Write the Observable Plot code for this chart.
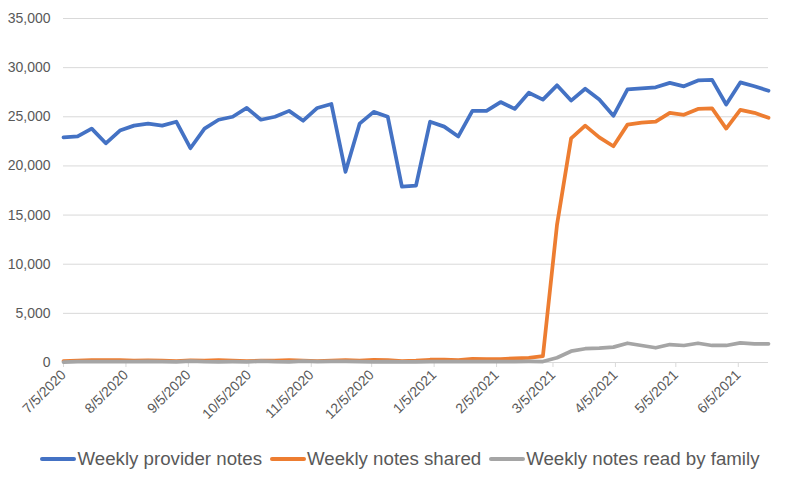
<!DOCTYPE html>
<html>
<head>
<meta charset="utf-8">
<script src="https://cdn.jsdelivr.net/npm/d3@7"></script>
<script src="https://cdn.jsdelivr.net/npm/@observablehq/plot@0.6"></script>
<style>
  body { margin: 0; background: #fff; }
  #chart { width: 800px; }
  #legend {
    width: 800px; display: flex; justify-content: center; align-items: center;
    padding-top: 13px; font-family: "Liberation Sans", Arial, sans-serif;
    font-size: 18.7px; color: #595959; gap: 8px;
  }
  .item { display: flex; align-items: center; }
  .item svg { margin-right: 1px; }
</style>
</head>
<body>
<div id="chart"></div>
<div id="legend"></div>
<script>
const weeks = [
  "2020-07-05","2020-07-12","2020-07-19","2020-07-26","2020-08-02","2020-08-09","2020-08-16","2020-08-23","2020-08-30",
  "2020-09-06","2020-09-13","2020-09-20","2020-09-27","2020-10-04","2020-10-11","2020-10-18","2020-10-25",
  "2020-11-01","2020-11-08","2020-11-15","2020-11-22","2020-11-29","2020-12-06","2020-12-13","2020-12-20","2020-12-27",
  "2021-01-03","2021-01-10","2021-01-17","2021-01-24","2021-01-31","2021-02-07","2021-02-14","2021-02-21","2021-02-28",
  "2021-03-07","2021-03-14","2021-03-21","2021-03-28","2021-04-04","2021-04-11","2021-04-18","2021-04-25",
  "2021-05-02","2021-05-09","2021-05-16","2021-05-23","2021-05-30","2021-06-06","2021-06-13","2021-06-20"
];
const providerNotes = [
  22900, 23000, 23800, 22300, 23600, 24100, 24300, 24100, 24500, 21800,
  23800, 24700, 25000, 25900, 24700, 25000, 25600, 24600, 25900, 26300,
  19400, 24300, 25500, 25000, 17900, 18000, 24500, 24000, 23000, 25600,
  25600, 26500, 25800, 27450, 26750, 28200, 26650, 27850, 26750, 25100,
  27800, 27900, 28000, 28450, 28100, 28700, 28750, 26250, 28500, 28100,
  27650
];
const notesShared = [
  150, 200, 230, 240, 230, 200, 220, 180, 150, 220,
  200, 230, 200, 130, 180, 200, 240, 200, 150, 200,
  240, 200, 260, 250, 150, 180, 280, 280, 250, 380,
  350, 350, 420, 480, 650, 14000, 22800, 24100, 22900, 22000,
  24200, 24400, 24500, 25400, 25200, 25800, 25850, 23800, 25700, 25400,
  24900
];
const notesRead = [
  50, 80, 90, 80, 100, 90, 110, 80, 70, 150,
  80, 60, 80, 70, 130, 80, 70, 140, 80, 120,
  120, 80, 70, 90, 60, 70, 100, 80, 90, 90,
  80, 90, 100, 110, 100, 480, 1150, 1400, 1460, 1560,
  1960, 1730, 1500, 1830, 1730, 1960, 1730, 1730, 2000, 1900,
  1900
];
const seriesNames = ["Weekly provider notes", "Weekly notes shared", "Weekly notes read by family"];
const seriesColors = ["#4472C4", "#ED7D31", "#A5A5A5"];
const xTickLabels = ["7/5/2020","8/5/2020","9/5/2020","10/5/2020","11/5/2020","12/5/2020",
  "1/5/2021","2/5/2021","3/5/2021","4/5/2021","5/5/2021","6/5/2021"];
const yTicks = [0, 5000, 10000, 15000, 20000, 25000, 30000, 35000];

const parseDate = d3.utcParse("%Y-%m-%d");
const parseTick = d3.utcParse("%-m/%-d/%Y");
const fmtTick = d3.utcFormat("%-m/%-d/%Y");
const allSeries = [providerNotes, notesShared, notesRead];
const rows = [];
allSeries.forEach((vals, s) => vals.forEach((v, i) => rows.push({date: parseDate(weeks[i]), value: v, series: seriesNames[s]})));
const tickDates = xTickLabels.map(parseTick);

const chart = Plot.plot({
  width: 800,
  height: 435,
  marginLeft: 63,
  marginRight: 32,
  marginTop: 18,
  marginBottom: 73,
  style: {fontFamily: "Liberation Sans, Arial, sans-serif", fontSize: "14px", color: "#595959", background: "#fff"},
  x: {type: "utc", domain: [parseDate(weeks[0]), parseDate(weeks[weeks.length - 1])]},
  y: {domain: [0, 35000]},
  color: {domain: seriesNames, range: seriesColors},
  marks: [
    Plot.gridY(yTicks, {stroke: "#d9d9d9", strokeOpacity: 1, strokeWidth: 1}),
    Plot.ruleY([0], {stroke: "#d9d9d9", strokeWidth: 1}),
    Plot.axisY({ticks: yTicks, tickFormat: d3.format(","), tickSize: 0, tickPadding: 13, label: null, fill: "#595959"}),
    Plot.axisX({ticks: tickDates, tickFormat: fmtTick, tickRotate: -45, tickSize: 5, tickPadding: 5, stroke: "#d9d9d9", label: null, fill: "#595959"}),
    Plot.line(rows, {x: "date", y: "value", z: "series", stroke: "series", strokeWidth: 3.75, strokeLinejoin: "round", strokeLinecap: "round"})
  ]
});
document.getElementById("chart").appendChild(chart);

const legend = document.getElementById("legend");
seriesNames.forEach((name, i) => {
  const item = document.createElement("div");
  item.className = "item";
  item.innerHTML = `<svg width="36" height="10"><line x1="2" y1="5" x2="34" y2="5" stroke="${seriesColors[i]}" stroke-width="4" stroke-linecap="round"/></svg><span>${name}</span>`;
  legend.appendChild(item);
});
</script>
</body>
</html>
